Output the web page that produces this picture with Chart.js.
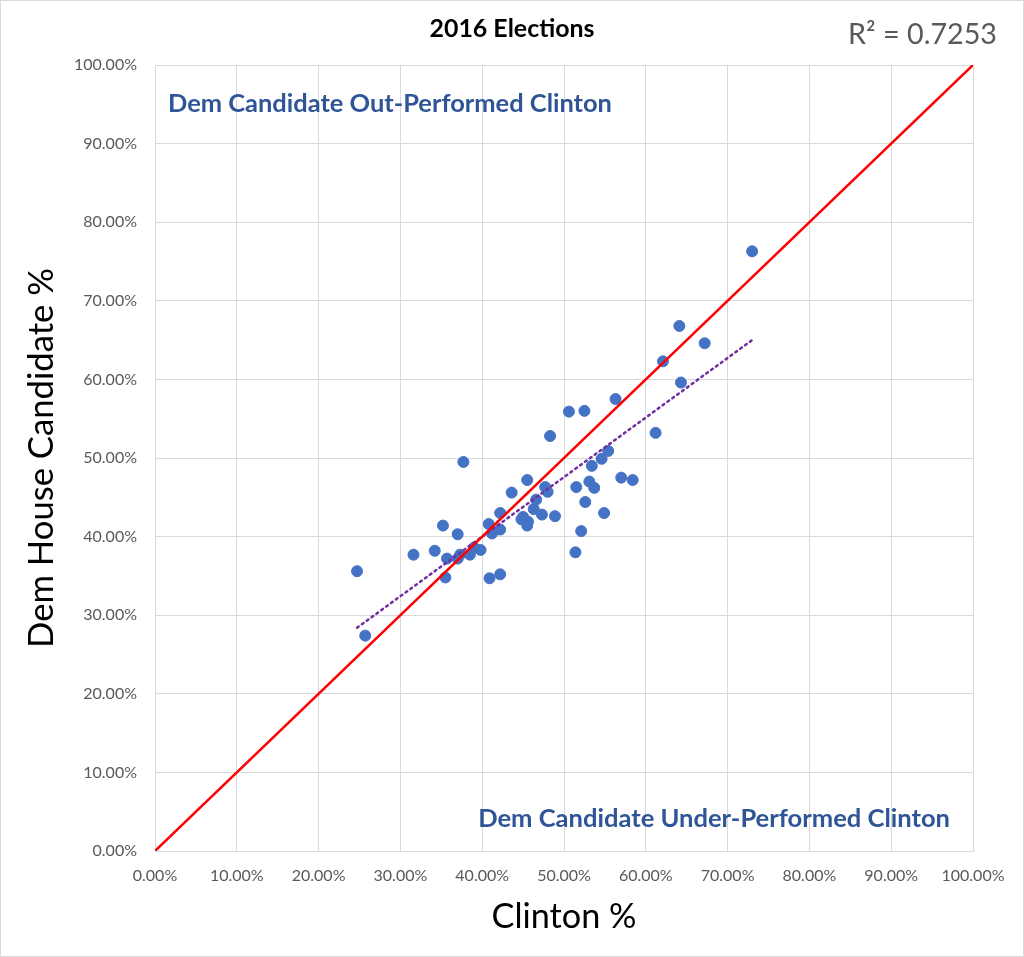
<!DOCTYPE html>
<html>
<head>
<meta charset="utf-8">
<script src="https://cdn.jsdelivr.net/npm/chart.js@4"></script>
<style>
  html, body { margin: 0; padding: 0; background: #fff; }
  canvas { display: block; }
</style>
</head>
<body>
<canvas id="chart" width="1024" height="957"></canvas>
<script>
// data (percent)
const clintonPct = [24.7, 25.7, 31.6, 34.2, 35.2, 35.5, 35.7, 37.0, 37.0, 37.3, 37.7, 38.5, 39.0, 39.8,
  40.8, 41.2, 40.9, 42.2, 42.2, 42.2, 43.6, 45.5, 45.0, 44.8, 45.6, 45.5, 46.3, 46.6, 47.3, 47.7,
  48.0, 48.9, 48.3, 50.6, 52.5, 51.5, 51.4, 52.1, 52.6, 53.1, 53.7, 53.4, 54.6, 55.4, 54.9, 56.3,
  57.0, 58.4, 61.2, 62.1, 64.1, 64.3, 67.2, 73.0];
const demHousePct = [35.6, 27.4, 37.7, 38.2, 41.4, 34.8, 37.2, 40.3, 37.2, 37.7, 49.5, 37.7, 38.6, 38.3,
  41.6, 40.4, 34.7, 35.2, 43.0, 40.9, 45.6, 47.2, 42.5, 42.2, 41.9, 41.4, 43.5, 44.7, 42.8, 46.3,
  45.7, 42.6, 52.8, 55.9, 56.0, 46.3, 38.0, 40.7, 44.4, 47.0, 46.2, 49.0, 49.9, 50.9, 43.0, 57.5,
  47.5, 47.2, 53.2, 62.3, 66.8, 59.6, 64.6, 76.3];
const trendX = [24.7, 73.0];
const trendY = [28.4, 65.0];
const parityX = [0, 100];
const parityY = [0, 100];
const rSquared = "R\u00B2 = 0.7253";

const toPoints = (xs, ys) => xs.map((x, i) => ({ x: x, y: ys[i] }));

// fit a text to a given width
function fitText(ctx, text, weight, family, width) {
  ctx.font = `${weight} 20px ${family}`;
  const size = 20 * width / ctx.measureText(text).width;
  ctx.font = `${weight} ${size}px ${family}`;
}

const textPlugin = {
  id: "texts",
  afterDraw(chart) {
    const ctx = chart.ctx;
    ctx.save();
    ctx.strokeStyle = "#d9d9d9";
    ctx.lineWidth = 1;
    ctx.strokeRect(0.5, 0.5, 1023, 956);

    ctx.textBaseline = "middle";
    ctx.textAlign = "center";
    ctx.fillStyle = "#000";
    fitText(ctx, "2016 Elections", "bold", "Lato", 165);
    ctx.fillText("2016 Elections", 512, 29);

    ctx.fillStyle = "#595959";
    ctx.textAlign = "right";
    fitText(ctx, rSquared, "normal", "Lato", 149);
    ctx.fillText(rSquared, 997, 35);

    ctx.fillStyle = "#000";
    ctx.textAlign = "center";
    fitText(ctx, "Clinton %", "normal", "Lato", 145);
    ctx.fillText("Clinton %", 564, 917);

    ctx.save();
    ctx.translate(42, 458);
    ctx.rotate(-Math.PI / 2);
    fitText(ctx, "Dem House Candidate %", "normal", "Lato", 380);
    ctx.fillText("Dem House Candidate %", 0, 0);
    ctx.restore();

    ctx.fillStyle = "#2f5597";
    ctx.textAlign = "left";
    fitText(ctx, "Dem Candidate Out-Performed Clinton", "bold", "Lato", 444);
    ctx.fillText("Dem Candidate Out-Performed Clinton", 168, 104);
    ctx.textAlign = "right";
    fitText(ctx, "Dem Candidate Under-Performed Clinton", "bold", "Lato", 472);
    ctx.fillText("Dem Candidate Under-Performed Clinton", 950, 819);
    ctx.restore();
  },
};

const tickFont = { family: "Lato", size: 16 };
const pctLabel = (v) => v.toFixed(2) + "%";

new Chart(document.getElementById("chart"), {
  type: "scatter",
  data: {
    datasets: [
      {
        data: toPoints(clintonPct, demHousePct),
        backgroundColor: "#4472c4",
        borderColor: "#4472c4",
        pointRadius: 5.5,
        order: 3,
      },
      {
        type: "line",
        data: toPoints(trendX, trendY),
        borderColor: "#7030a0",
        borderWidth: 2.5,
        borderDash: [2, 4],
        borderCapStyle: "round",
        pointRadius: 0,
        order: 2,
      },
      {
        type: "line",
        data: toPoints(parityX, parityY),
        borderColor: "#ff0000",
        borderWidth: 2.5,
        pointRadius: 0,
        order: 1,
      },
    ],
  },
  options: {
    responsive: false,
    animation: false,
    layout: { padding: { left: 0, top: 65, right: 51, bottom: 0 } },
    plugins: { legend: { display: false }, tooltip: { enabled: false } },
    scales: {
      x: {
        type: "linear",
        min: 0,
        max: 100,
        afterFit: (s) => { s.height = 106; },
        grid: { color: "#d9d9d9", drawTicks: false },
        border: { color: "#d9d9d9" },
        ticks: { stepSize: 10, padding: 15, color: "#595959", font: tickFont, callback: pctLabel },
      },
      y: {
        type: "linear",
        min: 0,
        max: 100,
        afterFit: (s) => { s.width = 155; },
        grid: { color: "#d9d9d9", drawTicks: false },
        border: { color: "#d9d9d9" },
        ticks: { stepSize: 10, padding: 18, color: "#595959", font: tickFont, callback: pctLabel },
      },
    },
  },
  plugins: [textPlugin],
});
</script>
</body>
</html>
